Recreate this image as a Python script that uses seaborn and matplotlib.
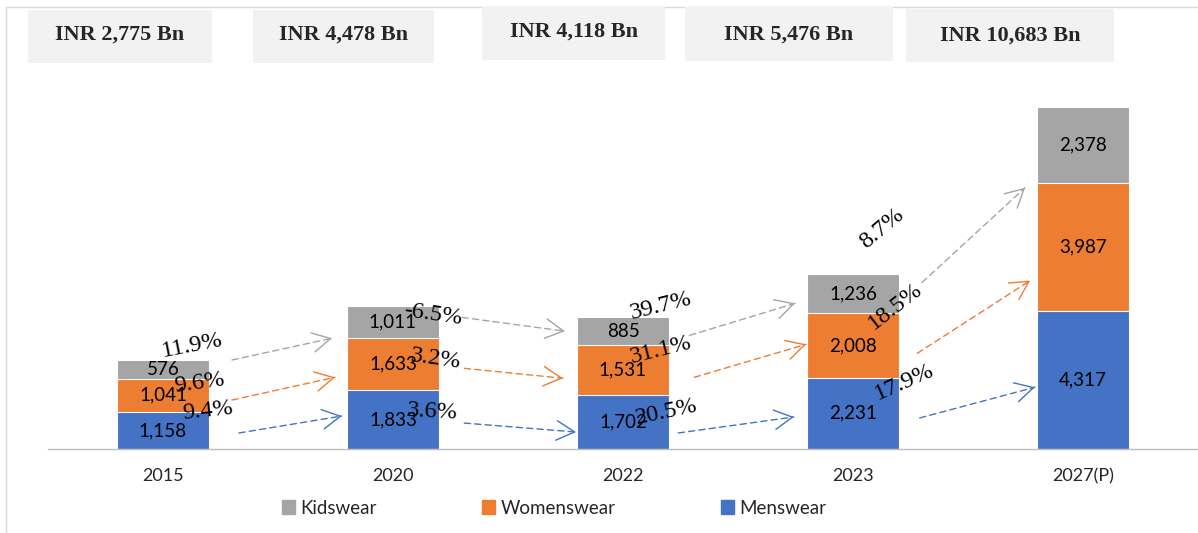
"""Indian apparel market size by segment (INR Bn), stacked bars with growth arrows."""
import matplotlib.pyplot as plt
import numpy as np
import seaborn as sns
from matplotlib.patches import Patch, Rectangle

years = ["2015", "2020", "2022", "2023", "2027(P)"]
menswear = [1158, 1833, 1702, 2231, 4317]
womenswear = [1041, 1633, 1531, 2008, 3987]
kidswear = [576, 1011, 885, 1236, 2378]
totals = ["INR 2,775 Bn", "INR 4,478 Bn", "INR 4,118 Bn", "INR 5,476 Bn", "INR 10,683 Bn"]

# growth labels between consecutive years (kids, womens, mens)
growth_kids = ["11.9%", "-6.5%", "39.7%", "8.7%"]
growth_womens = ["9.6%", "3.2%", "31.1%", "18.5%"]
growth_mens = ["9.4%", "3.6%", "20.5%", "17.9%"]

BLUE, ORANGE, GREY = "#4472C4", "#ED7D31", "#A5A5A5"

# hand-placed arrows: (x0, y0, x1, y1) in category / value units
arrows_kids = [(0.30, 2780, 0.735, 3460), (1.30, 4110, 1.748, 3680),
               (2.29, 3550, 2.748, 4550), (3.30, 5200, 3.748, 8160)]
arrows_womens = [(0.30, 1530, 0.748, 2240), (1.31, 2520, 1.739, 2210),
                 (2.31, 2240, 2.796, 3270), (3.28, 2990, 3.770, 5260)]
arrows_mens = [(0.33, 500, 0.778, 1030), (1.31, 810, 1.796, 530),
               (2.24, 500, 2.743, 1000), (3.29, 970, 3.791, 1930)]
# growth label anchors (x, y, rotation)
lab_kids = [(0.126, 3240, 11), (1.174, 4200, -8), (2.165, 4450, 14), (3.126, 6880, 40)]
lab_womens = [(0.161, 2060, 8), (1.187, 2800, -8), (2.165, 3080, 14), (3.183, 4450, 38)]
lab_mens = [(0.196, 1185, 6), (1.170, 1150, -3), (2.187, 1150, 12), (3.222, 2090, 24)]

sns.set_theme(style="white")
plt.rcParams["font.family"] = ["Lato", "DejaVu Sans"]

fig = plt.figure(figsize=(11.98, 5.33), dpi=100)
W, H = 1198, 533
ax = fig.add_axes([48 / W, (H - 449) / H, 1150 / W, (449 - 60) / H])

m = np.array(menswear)
w = np.array(womenswear)
k = np.array(kidswear)
bar_kw = dict(width=0.4, saturation=1, edgecolor="white", linewidth=0.8, ax=ax, errorbar=None)
sns.barplot(x=years, y=m + w + k, color=GREY, **bar_kw)
sns.barplot(x=years, y=m + w, color=ORANGE, **bar_kw)
sns.barplot(x=years, y=m, color=BLUE, **bar_kw)

for i in range(len(years)):
    base = 0
    for vals in (menswear, womenswear, kidswear):
        ax.text(i, base + vals[i] / 2, f"{vals[i]:,}", ha="center", va="center",
                fontsize=13.5, color="black", zorder=5)
        base += vals[i]

dash = (0, (4.5, 3))
for arrs, labs, texts, col in ((arrows_kids, lab_kids, growth_kids, GREY),
                               (arrows_womens, lab_womens, growth_womens, ORANGE),
                               (arrows_mens, lab_mens, growth_mens, BLUE)):
    for (x0, y0, x1, y1), (lx, ly, rot), t in zip(arrs, labs, texts):
        ax.annotate("", xy=(x1, y1), xytext=(x0, y0),
                    arrowprops=dict(arrowstyle="-", color=col, lw=1.0, linestyle=dash,
                                    shrinkA=0, shrinkB=0))
        ax.annotate("", xy=(x1, y1), xytext=(x1 - 0.02 * (x1 - x0), y1 - 0.02 * (y1 - y0)),
                    arrowprops=dict(arrowstyle="->,head_length=0.65,head_width=0.35",
                                    color=col, lw=1.0, shrinkA=0, shrinkB=0,
                                    mutation_scale=20))
        ax.text(lx, ly, t, ha="center", va="center", rotation=rot, fontsize=17.5,
                family="Liberation Serif", color="black", zorder=6,
                rotation_mode="anchor")

ax.set_xlim(-0.5, 4.5)
ax.set_ylim(0, 12150)
ax.set_yticks([])
ax.set_xlabel("")
ax.set_ylabel("")
for s in ("left", "right", "top"):
    ax.spines[s].set_visible(False)
ax.spines["bottom"].set_color("#BFBFBF")
ax.spines["bottom"].set_linewidth(1.0)
ax.set_xticks(range(len(years)))
ax.set_xticklabels(years, fontsize=13)
ax.set_xticks(np.arange(-0.5, 5, 1), minor=True)
ax.tick_params(axis="x", which="major", length=0, pad=14)
ax.tick_params(axis="x", which="minor", length=5, width=1, color="#BFBFBF", direction="out")

# outer frame (top and left visible)
fig.patches.append(Rectangle((6 / W, -0.1), 1.2, 1.1 - 7 / H, transform=fig.transFigure,
                             fill=False, edgecolor="#D9D9D9", lw=1.0, zorder=0))

# total boxes across the top
boxes = [(28, 10, 212, 63), (253, 10, 434, 63), (482, 7, 665, 60),
         (685, 7, 893, 61), (906, 9, 1114, 62)]
text_y = [35, 35, 32, 35, 36]
for (x0, y0, x1, y1), ty, t in zip(boxes, text_y, totals):
    fig.patches.append(Rectangle((x0 / W, 1 - y1 / H), (x1 - x0) / W, (y1 - y0) / H,
                                 transform=fig.transFigure, facecolor="#F2F2F2",
                                 edgecolor="none", zorder=1))
    fig.text((x0 + x1) / 2 / W, 1 - ty / H, t, ha="center", va="center", fontsize=16,
             fontweight="bold", family="Liberation Serif", zorder=2)

handles = [Patch(color=GREY, label="Kidswear"), Patch(color=ORANGE, label="Womenswear"),
           Patch(color=BLUE, label="Menswear")]
fig.legend(handles=handles, loc="center", bbox_to_anchor=(554 / W, 1 - 508 / H), ncol=3,
           frameon=False, fontsize=13.5, handlelength=0.7, handleheight=0.7,
           handletextpad=0.3, columnspacing=5.6)

fig.savefig("out.png", dpi=100)
